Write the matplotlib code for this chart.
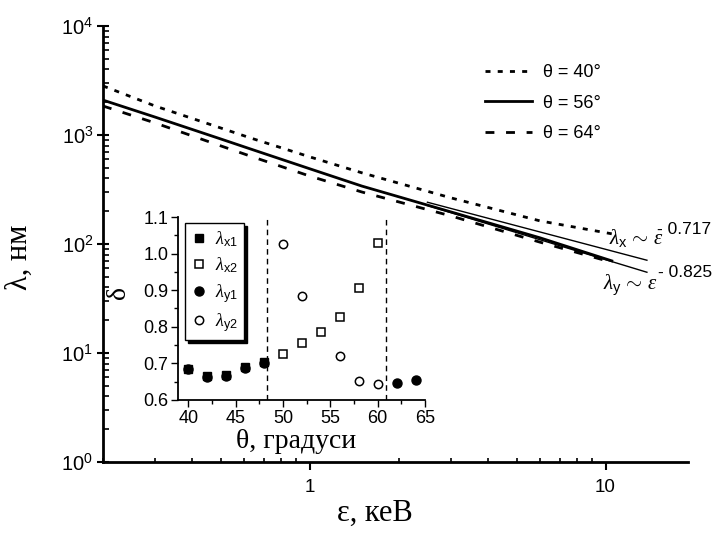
import numpy as np
import matplotlib.pyplot as plt
from matplotlib.ticker import MultipleLocator, NullFormatter, LogLocator

plt.rcParams['font.family'] = ['Liberation Sans', 'DejaVu Sans']
plt.rcParams['mathtext.fontset'] = 'custom'
plt.rcParams['mathtext.rm'] = 'Liberation Serif'
plt.rcParams['mathtext.it'] = 'Liberation Serif:italic'
plt.rcParams['mathtext.sf'] = 'Liberation Sans'

# Довжина хвилі від енергії для трьох кутів
eps = [0.2, 0.3, 0.5, 0.63, 1, 1.5, 3, 6, 10.5]
lam_40 = [2820, 1845, 1160, 940, 630, 450, 265, 163, 124]
lam_56 = [2090, 1460, 920, 745, 490, 340, 197, 114, 70]
lam_64 = [1845, 1290, 795, 640, 420, 300, 181, 104, 68]

# Степеневі апроксимації
fit_eps = np.array([2.5, 13.8])
a_x, p_x = 466, -0.717
a_y, p_y = 480, -0.825

# Вставка: показник степеня від кута
theta_x1 = [40, 42, 44, 46, 48]
delta_x1 = [0.685, 0.665, 0.668, 0.689, 0.703]
theta_x2 = [50, 52, 54, 56, 58, 60]
delta_x2 = [0.726, 0.756, 0.786, 0.827, 0.905, 1.028]
theta_y1 = [40, 42, 44, 46, 48, 62, 64]
delta_y1 = [0.684, 0.663, 0.666, 0.688, 0.702, 0.646, 0.655]
theta_y2 = [50, 52, 56, 58, 60]
delta_y2 = [1.027, 0.885, 0.719, 0.652, 0.643]
theta_bounds = [48.3, 60.9]

W, H = 713, 534
fig = plt.figure(figsize=(W / 100, H / 100), dpi=100)
ax = fig.add_axes([103 / W, 72 / H, 585 / W, 436 / H])

ax.plot(eps, lam_40, color='k', lw=2, ls=(0, (1.8, 2.6)), label='θ = 40°')
ax.plot(eps, lam_56, color='k', lw=2, ls='-', label='θ = 56°')
ax.plot(eps, lam_64, color='k', lw=2, ls=(0, (3.2, 4.2)), label='θ = 64°')
ax.plot(fit_eps, a_x * fit_eps ** p_x, color='k', lw=1)
ax.plot(fit_eps, a_y * fit_eps ** p_y, color='k', lw=1)

ax.set_xscale('log')
ax.set_yscale('log')
ax.set_xlim(0.2, 19)
ax.set_ylim(1, 1e4)
for s in ['top', 'right']:
    ax.spines[s].set_visible(False)
for s in ['left', 'bottom']:
    ax.spines[s].set_linewidth(2)

ax.set_xticks([1, 10])
ax.set_xticklabels(['1', '10'])
ax.set_xticks([0.2, 0.3, 0.4, 0.5, 0.6, 0.7, 0.8, 0.9, 2, 3, 4, 5, 6, 7, 8, 9], minor=True)
ax.xaxis.set_minor_formatter(NullFormatter())
ax.yaxis.set_major_locator(LogLocator(base=10, numticks=10))
ax.yaxis.set_minor_locator(LogLocator(base=10, subs=np.arange(2, 10), numticks=20))
ax.yaxis.set_minor_formatter(NullFormatter())
ax.tick_params(axis='x', which='major', direction='out', length=6, width=1.5, labelsize=13.5, pad=6)
ax.tick_params(axis='x', which='minor', direction='in', length=3, width=1.2)
ax.tick_params(axis='y', which='major', direction='inout', length=8, width=1.5, labelsize=14.5, pad=3)
ax.tick_params(axis='y', which='minor', direction='in', length=4, width=1.2)

ax.set_xlabel('ε, кеВ', family='Liberation Serif', fontsize=22)
ax.xaxis.set_label_coords(0.465, -0.085)
ax.set_ylabel('λ, нм', family='Liberation Serif', fontsize=22)
ax.yaxis.set_label_coords(-0.118, 0.47)

leg = ax.legend(loc='upper left', bbox_to_anchor=(485 / W, 1 - 64 / H),
                bbox_transform=fig.transFigure, frameon=False, fontsize=13,
                handlelength=2.6, handletextpad=0.6, labelspacing=0.75,
                borderpad=0, borderaxespad=0)

# Підписи апроксимацій
ax.text(10.3, 114, r'$\lambda_{\mathsf{x}}\,\mathsf{\sim}\,\varepsilon$', fontsize=15,
        ha='left', va='center')
ax.text(14.9, 137, '- 0.717', fontsize=12.5, ha='left', va='center')
ax.text(9.8, 42, r'$\lambda_{\mathsf{y}}\,\mathsf{\sim}\,\varepsilon$', fontsize=15,
        ha='left', va='center')
ax.text(15.0, 55, '- 0.825', fontsize=12.5, ha='left', va='center')

# Вставка
ax2 = fig.add_axes([178 / W, 134 / H, 247 / W, 183 / H])
ax2.patch.set_alpha(0)
ax2.plot(theta_x1, delta_x1, 's', color='k', ms=6, label=r'$\lambda_{\mathsf{x1}}$')
ax2.plot(theta_x2, delta_x2, 's', mfc='white', mec='k', mew=1.1, ms=6, label=r'$\lambda_{\mathsf{x2}}$')
ax2.plot(theta_y1, delta_y1, 'o', color='k', ms=6.5, label=r'$\lambda_{\mathsf{y1}}$')
ax2.plot(theta_y2, delta_y2, 'o', mfc='white', mec='k', mew=1.1, ms=6, label=r'$\lambda_{\mathsf{y2}}$')
for tb in theta_bounds:
    ax2.axvline(tb, color='k', lw=1, ls=(0, (4, 3)))

ax2.set_xlim(38.9, 65)
ax2.set_ylim(0.6, 1.1)
ax2.xaxis.set_major_locator(MultipleLocator(5))
ax2.xaxis.set_minor_locator(MultipleLocator(2.5))
ax2.yaxis.set_major_locator(MultipleLocator(0.1))
ax2.yaxis.set_minor_locator(MultipleLocator(0.05))
ax2.yaxis.set_major_formatter(plt.FormatStrFormatter('%.1f'))
for s in ['top', 'right']:
    ax2.spines[s].set_visible(False)
for s in ['left', 'bottom']:
    ax2.spines[s].set_linewidth(1.3)
ax2.tick_params(which='major', direction='out', length=5, width=1, labelsize=13, pad=2)
ax2.tick_params(which='minor', direction='out', length=3, width=1)

ax2.set_xlabel('θ, градуси', family='Liberation Serif', fontsize=20)
ax2.xaxis.set_label_coords(0.48, -0.16)
ax2.set_ylabel('δ', family='Liberation Serif', fontsize=20)
ax2.yaxis.set_label_coords(-0.19, 0.585)

leg2 = ax2.legend(loc='upper left', bbox_to_anchor=(0.03, 0.965), fontsize=13,
                  handlelength=0.8, handletextpad=0.5, labelspacing=0.35,
                  borderpad=0.35, borderaxespad=0, fancybox=False,
                  shadow={'color': 'black', 'alpha': 1})
leg2.get_frame().set_edgecolor('k')
leg2.get_frame().set_linewidth(1)

fig.savefig('out.png', dpi=100)
